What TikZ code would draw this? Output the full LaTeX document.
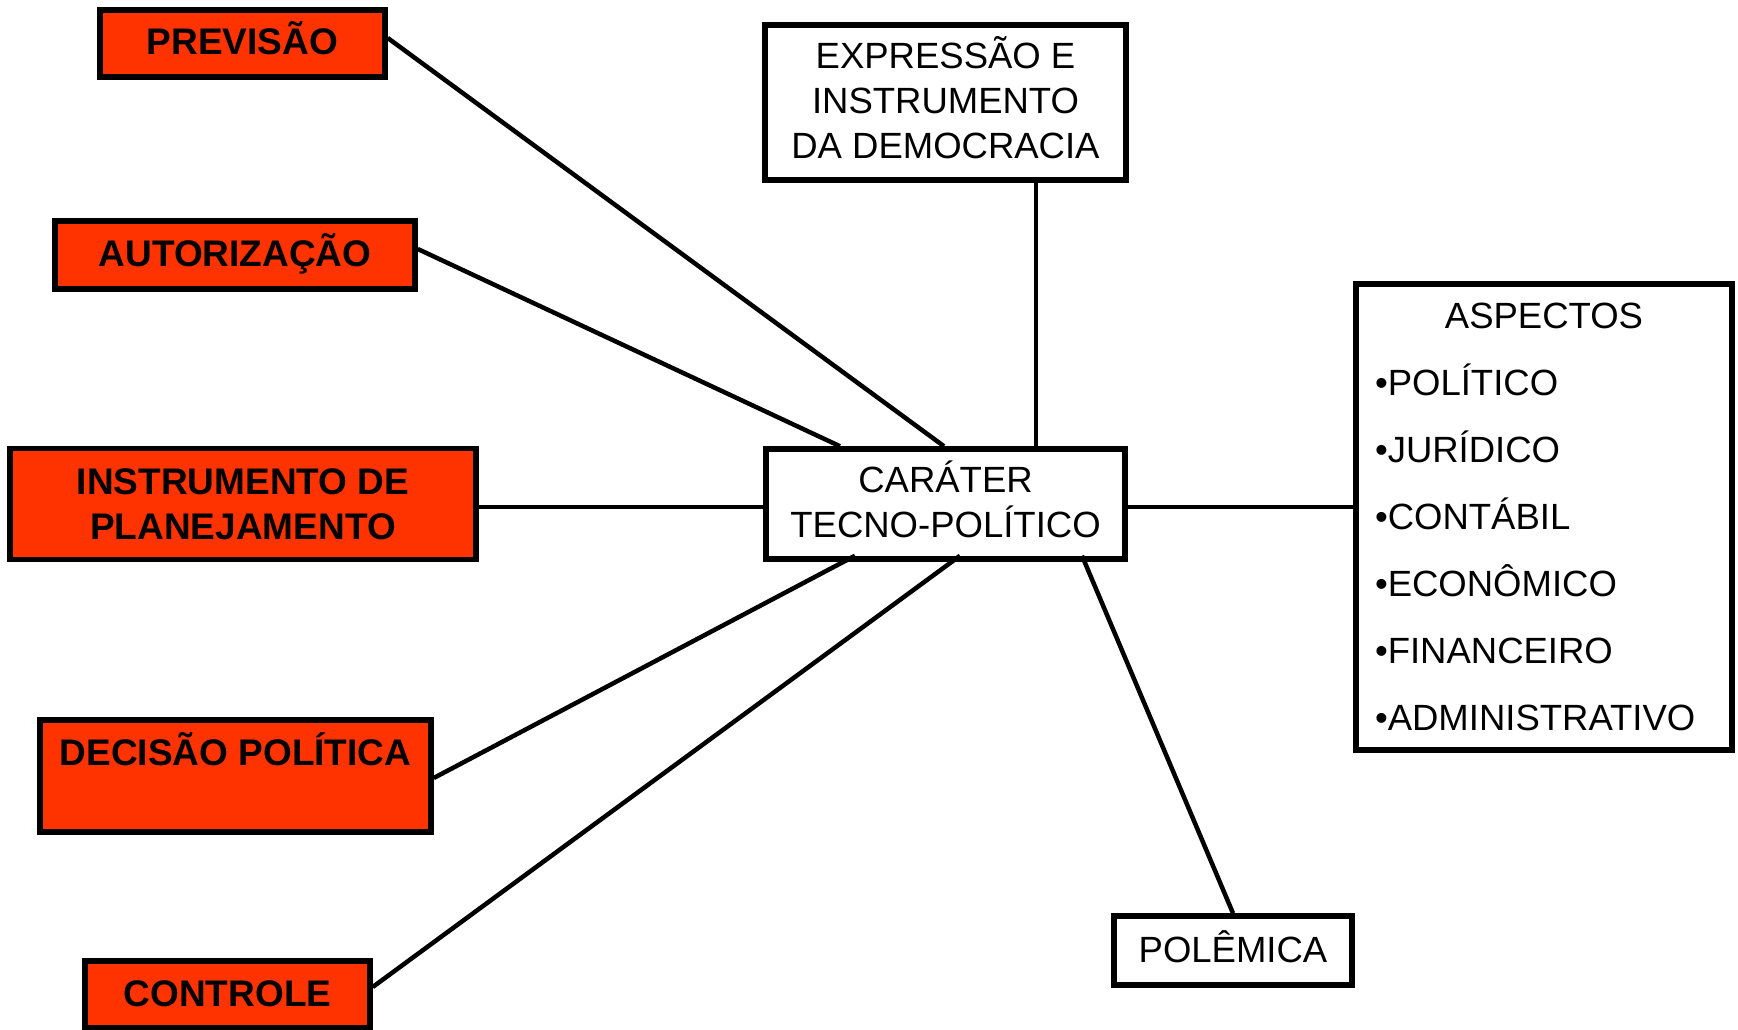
\documentclass[tikz,border=0pt]{standalone}
\usepackage{fontspec}
\setmainfont{Liberation Sans}
\usepackage{tikz}
\definecolor{boxred}{HTML}{FF3300}
\newcommand{\ls}{\rule[-9.5pt]{0pt}{35.5pt}}
\newcommand{\lsb}{\rule[-6.5pt]{0pt}{38.5pt}}

\begin{document}
\begin{tikzpicture}[x=1pt, y=-1pt, line width=4.5pt,
	redbox/.style={draw, fill=boxred, line width=5.5pt, inner sep=0pt, align=center, font=\fontsize{37}{45}\selectfont\bfseries},
	whitebox/.style={draw, fill=white, line width=5.5pt, inner sep=0pt, align=center, font=\fontsize{36.5}{45}\selectfont},
	oneline/.style={text height=26pt, text depth=3pt}]
	\useasboundingbox (0,0) rectangle (1738,1030);

	% left column
	\node[redbox, oneline, minimum width=285pt, minimum height=67pt] (prev) at (242.5,43.5) {PREVISÃO};
	\node[redbox, oneline, minimum width=360pt, minimum height=68pt] (auto) at (235,255) {AUTORIZAÇÃO};
	\node[redbox, minimum width=466pt, minimum height=111pt] (inst) at (243,504) {\lsb INSTRUMENTO DE\\\lsb PLANEJAMENTO};
	\node[redbox, text height=26pt, text depth=48pt, minimum width=391pt, minimum height=112pt] (dec) at (235.5,776) {DECISÃO POLÍTICA};
	\node[redbox, oneline, minimum width=285pt, minimum height=67pt] (ctrl) at (227.5,994.5) {CONTROLE};

	% centre and right
	\node[whitebox, minimum width=361pt, minimum height=155pt] (expr) at (945.5,102.5) {\ls EXPRESSÃO E\\\ls INSTRUMENTO\\\ls DA DEMOCRACIA};
	\node[whitebox, minimum width=359pt, minimum height=110pt] (car) at (945.5,504) {\ls CARÁTER\\\ls TECNO-POLÍTICO};
	\node[whitebox, align=left, font=\fontsize{36.5}{67}\selectfont, text width=338pt, inner xsep=19pt, minimum width=376pt, minimum height=466pt] (asp) at (1544,517)
		{\makebox[338pt]{ASPECTOS}\\•POLÍTICO\\•JURÍDICO\\•CONTÁBIL\\•ECONÔMICO\\•FINANCEIRO\\•ADMINISTRATIVO};
	\node[whitebox, oneline, minimum width=238pt, minimum height=69pt] (pol) at (1233,950.5) {POLÊMICA};

	\draw ([yshift=5.5pt]prev.east) edge[] ([xshift=-1.5pt]car.north) ;
	\draw ([yshift=6pt]auto.east) edge[] ([xshift=-105.5pt]car.north) ;
	\draw ([yshift=-3pt]inst.east) edge[] ([yshift=-3pt]car.west) ;
	\draw ([xshift=90.5pt, yshift=5pt]expr.south) edge[] ([xshift=90.5pt]car.north) ;
	\draw ([yshift=-3pt]car.east) edge[] ([yshift=10pt]asp.west) ;
	\draw ([yshift=-2pt]dec.east) edge[] ([xshift=-90.5pt, yshift=6pt]car.south) ;
	\draw ([yshift=7.5pt]ctrl.east) edge[] ([xshift=14.5pt, yshift=6pt]car.south) ;
	\draw (pol.north) edge[] ([xshift=136.5pt, yshift=6pt]car.south) ;

\end{tikzpicture}
\end{document}
